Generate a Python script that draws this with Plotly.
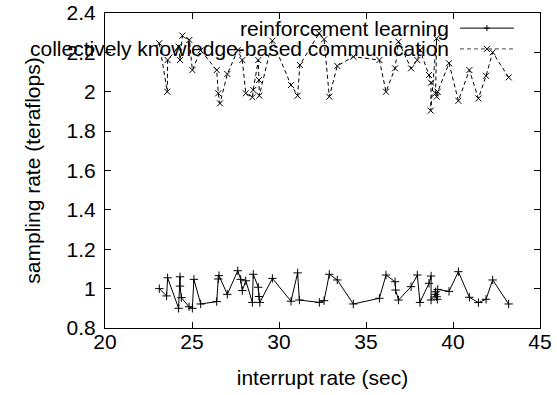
import plotly.graph_objects as go

# Series 1: reinforcement learning
rl_x = [23.12, 23.54, 23.6, 24.23, 24.31, 24.31, 24.39, 24.83, 25.02, 25.11, 25.5,
        26.42, 26.51, 26.55, 27.03, 27.63, 27.8, 27.89, 28.09, 28.47, 28.52, 28.81,
        28.85, 28.9, 29.62, 30.69, 31.07, 31.17, 32.32, 32.59, 32.89, 33.35, 34.27,
        35.77, 36.15, 36.67, 36.7, 36.87, 37.59, 37.95, 38.1, 38.62, 38.74, 38.74,
        38.97, 39.0, 39.06, 39.1, 39.12, 39.77, 40.31, 40.94, 41.46, 41.9, 42.28, 43.2]
rl_y = [1.0, 0.963, 1.055, 0.90, 1.06, 1.013, 0.954, 0.908, 0.90, 1.047, 0.922,
        0.934, 1.049, 1.066, 0.971, 1.091, 1.047, 0.99, 1.04, 0.93, 1.073, 1.007,
        0.96, 0.93, 1.052, 0.936, 1.08, 0.942, 0.93, 0.939, 1.073, 1.044, 0.922,
        0.951, 1.069, 1.035, 0.993, 0.942, 1.01, 1.069, 0.93, 1.027, 1.064, 0.942,
        0.971, 0.984, 0.959, 0.946, 0.996, 0.986, 1.086, 0.956, 0.929, 0.946, 1.044, 0.922]

# Series 2: collectively knowledge-based communication
ck_x = [23.12, 23.58, 23.6, 24.23, 24.31, 24.45, 24.85, 25.02, 25.5, 26.42, 26.51,
        26.61, 27.03, 27.63, 27.89, 28.09, 28.47, 28.52, 28.81, 28.85, 28.87, 29.62,
        30.69, 31.07, 31.2, 32.3, 32.59, 32.89, 33.35, 34.27, 35.77, 36.15, 36.67,
        36.87, 37.59, 37.95, 38.1, 38.62, 38.74, 38.72, 39.06, 39.0, 39.06, 39.12,
        39.77, 40.31, 40.94, 41.46, 41.9, 42.28, 43.2]
ck_y = [2.246, 2.0, 2.161, 2.229, 2.161, 2.285, 2.263, 2.11, 2.21, 2.11, 1.992,
        1.941, 2.09, 2.212, 2.161, 1.992, 1.972, 2.009, 2.161, 2.06, 1.98, 2.259,
        2.034, 1.98, 2.136, 2.297, 2.266, 1.975, 2.131, 2.178, 2.161, 2.0, 2.119,
        2.254, 2.119, 2.161, 2.212, 2.085, 2.046, 1.904, 2.271, 1.992, 1.975, 2.0,
        2.145, 1.954, 2.11, 1.966, 2.081, 2.2, 2.073]

names = ["reinforcement learning", "collectively knowledge-based communication"]
x_ticks = [20, 25, 30, 35, 40, 45]
y_ticks = [0.8, 1.0, 1.2, 1.4, 1.6, 1.8, 2.0, 2.2, 2.4]
y_tick_text = ["0.8", "1", "1.2", "1.4", "1.6", "1.8", "2", "2.2", "2.4"]

FONT = "Liberation Sans, Arial, Helvetica, sans-serif"
FS = 21
DASH = "4px,3px"

fig = go.Figure()
fig.add_trace(go.Scatter(
    x=rl_x, y=rl_y, mode="lines+markers", name=names[0],
    line=dict(color="black", width=1),
    marker=dict(symbol="cross-thin", size=6, line=dict(color="black", width=1)),
))
fig.add_trace(go.Scatter(
    x=ck_x, y=ck_y, mode="lines+markers", name=names[1],
    line=dict(color="black", width=1, dash=DASH),
    marker=dict(symbol="x-thin", size=6, line=dict(color="black", width=1)),
))

axis_common = dict(
    showline=True, linecolor="black", linewidth=1, mirror="allticks",
    ticks="inside", ticklen=6, tickwidth=1, tickcolor="black",
    showgrid=False, zeroline=False,
    tickfont=dict(family=FONT, size=FS, color="black"),
)

fig.update_xaxes(
    range=[20, 45], tickvals=x_ticks, ticktext=[str(v) for v in x_ticks],
    ticklabelstandoff=-5,
    title=dict(text="interrupt rate (sec)", font=dict(family=FONT, size=FS, color="black"), standoff=18),
    **axis_common,
)
fig.update_yaxes(
    range=[0.8, 2.4], tickvals=y_ticks, ticktext=y_tick_text,
    ticklabelstandoff=4,
    title=dict(text="sampling rate (teraflops)", font=dict(family=FONT, size=FS, color="black"), standoff=20),
    **axis_common,
)

# gnuplot-style key: text right-aligned, sample on the right
key_rows = [0.952, 0.886]
key_text_x = 0.795
key_line = (0.816, 0.940)
key_mid = 0.878
annotations = []
shapes = []
for i, nm in enumerate(names):
    annotations.append(dict(
        text=nm, xref="paper", yref="paper", x=key_text_x, y=key_rows[i],
        xanchor="right", yanchor="middle", showarrow=False,
        font=dict(family=FONT, size=FS, color="black"),
    ))
    shapes.append(dict(
        type="line", xref="paper", yref="paper",
        x0=key_line[0], x1=key_line[1], y0=key_rows[i], y1=key_rows[i],
        line=dict(color="black" if i == 0 else "#444", width=1, dash="solid" if i == 0 else DASH),
    ))
shapes.append(dict(type="path", xref="paper", yref="paper", xsizemode="pixel", ysizemode="pixel",
                   xanchor=key_mid, yanchor=key_rows[0],
                   path="M-3,0 L3,0 M0,-3 L0,3", line=dict(color="black", width=1)))
shapes.append(dict(type="path", xref="paper", yref="paper", xsizemode="pixel", ysizemode="pixel",
                   xanchor=key_mid, yanchor=key_rows[1],
                   path="M-3,-3 L3,3 M-3,3 L3,-3", line=dict(color="black", width=1)))

fig.update_layout(
    width=557, height=395,
    margin=dict(l=105, r=17, t=13, b=67, autoexpand=False),
    paper_bgcolor="white", plot_bgcolor="white",
    showlegend=False,
    annotations=annotations, shapes=shapes,
    font=dict(family=FONT, size=FS, color="black"),
)

fig.write_html("out.html", config={"displayModeBar": False},
               post_script="document.body.style.margin='0';document.body.style.padding='0';")
